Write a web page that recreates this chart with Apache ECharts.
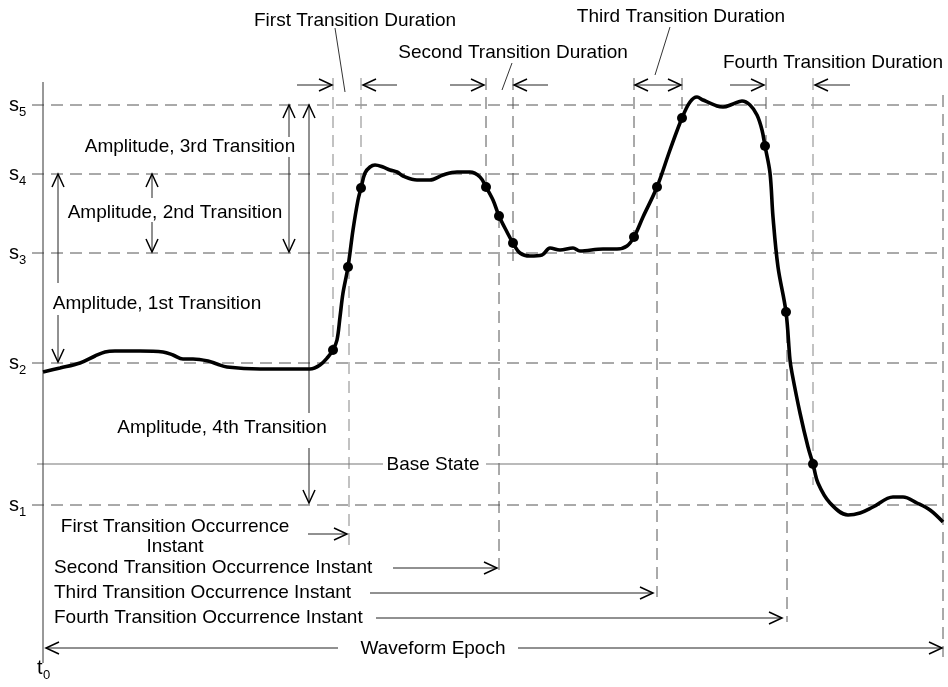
<!DOCTYPE html>
<html><head><meta charset="utf-8">
<script src="https://cdn.jsdelivr.net/npm/echarts@6/dist/echarts.min.js"></script>
<style>html,body{margin:0;padding:0;background:#fff}#c{width:948px;height:687px}</style>
</head><body><div id="c"></div>
<script>
// Time axis: t = time since t0; A = amplitude (arbitrary units)
const levelNames = ['1', '2', '3', '4', '5'];
const levelValues = [95, 237, 347, 426, 495];
const baseState = 136;
const epochEnd = 900;

const waveT = [0,17,37,52,62,72,97,120,130,140,150,165,174,184,217,267,277,285,290,294,297,300,305,310,315,318,322,327,332,340,347,354,360,374,387,400,414,427,437,443,450,456,464,470,477,487,499,507,517,530,537,560,574,584,591,600,614,627,639,647,654,660,674,680,690,699,707,714,719,722,727,730,735,743,747,749,757,765,770,775,787,805,817,830,850,860,874,887,900];
const waveA = [228,232,237,244,248,249,249,248,245,241,241,239,236,233,231,231,235,243,250,260,283,307,333,370,400,412,427,433,435,433,430,428,424,420,420,425,428,428,423,413,400,384,368,357,347,344,345,352,350,352,349,351,351,354,363,383,413,450,482,498,503,500,494,493,496,499,495,485,470,454,427,383,333,288,240,227,187,153,136,117,97,85,87,93,103,103,97,90,78];

const dotT = [290,305,318,443,456,470,591,614,639,722,743,770];
const dotA = [250,333,412,413,384,357,363,413,482,454,288,136];

// guide lines: [t, A top, A bottom]
const lightGuides = [[290,522,250],[318,522,412],[306,333,48],[770,522,115]];
const darkGuides = [[443,522,413],[470,522,337],[456,384,27],[591,522,363],[639,522,482],[614,413,3],[723,522,454],[744,288,-22],[900,505,-57]];

// arrows: [t1, A1, t2, A2, heads(1=end,2=both)]
const arrows = [
 [254,515,289,515,1],[354,515,320,515,1],
 [407,515,441,515,1],[505,515,471,515,1],
 [592,515,638,515,2],
 [687,515,721,515,1],[807,515,772,515,1],
 [15,317,15,426,1],[15,285,15,238,1],
 [109,402,109,426,1],[109,378,109,348,1],
 [246,463,246,495,1],[246,443,246,348,1],
 [266,187,266,495,1],[266,152,266,97,1],
 [265,66,304,66,1],[350,32,454,32,1],[327,7,610,7,1],[333,-18,739,-18,1],
 [295,-48,3,-48,1],[475,-48,899,-48,1]
];
// thin leader lines and axis
const leaders = [[292,572,302,508],[469,537,459,510],[627,573,612,525],[0,518,0,-63]];

const centerLabels = ['First Transition Duration','Second Transition Duration','Third Transition Duration','Fourth Transition Duration','Amplitude, 3rd Transition','Amplitude, 2nd Transition','Amplitude, 1st Transition','Amplitude, 4th Transition','Base State','First Transition Occurrence','Instant','Waveform Epoch'];
const centerLabelT = [312,470,638,790,147,132,114,179,390,132,132,390];
const centerLabelA = [579,547,583,537,453,387,296,172,135,73,53,-49];
const leftLabels = ['Second Transition Occurrence Instant','Third Transition Occurrence Instant','Fourth Transition Occurrence Instant'];
const leftLabelT = [11,11,11];
const leftLabelA = [32,7,-18];

const FONT = '19px "Liberation Sans", Arial, sans-serif';

function segRender(color, dash, width) {
  return function (params, api) {
    const p1 = api.coord([api.value(0), api.value(1)]);
    const p2 = api.coord([api.value(2), api.value(3)]);
    return {type:'line', shape:{x1:p1[0],y1:p1[1],x2:p2[0],y2:p2[1]},
      style:{stroke:color, lineWidth:width, lineDash:dash, fill:null}};
  };
}
function head(p, q) { // arrowhead at q, coming from p
  const dx = q[0]-p[0], dy = q[1]-p[1], len = Math.hypot(dx,dy) || 1;
  const ux = dx/len, uy = dy/len, L = 13, W = 6;
  return {type:'polyline', shape:{points:[[q[0]-ux*L-uy*W, q[1]-uy*L+ux*W],[q[0],q[1]],[q[0]-ux*L+uy*W, q[1]-uy*L-ux*W]]},
    style:{stroke:'#000', lineWidth:1.5, fill:null}};
}
function arrowRender(params, api) {
  const p1 = api.coord([api.value(0), api.value(1)]);
  const p2 = api.coord([api.value(2), api.value(3)]);
  const children = [{type:'line', shape:{x1:p1[0],y1:p1[1],x2:p2[0],y2:p2[1]}, style:{stroke:'#222', lineWidth:1}}];
  children.push(head(p1,p2));
  if (api.value(4) === 2) children.push(head(p2,p1));
  return {type:'group', children};
}
function textRender(list, align) {
  return function (params, api) {
    const p = api.coord([api.value(0), api.value(1)]);
    return {type:'text', x:p[0], y:p[1], style:{text:list[params.dataIndex], font:FONT, fill:'#000', align:align, verticalAlign:'middle'}};
  };
}
function subRender(letter, names, gap) {
  return function (params, api) {
    const p = api.coord([api.value(0), api.value(1)]);
    return {type:'group', children:[
      {type:'text', x:p[0], y:p[1], style:{text:letter, font:'20px "Liberation Sans", Arial, sans-serif', fill:'#000', align:'left', verticalAlign:'middle'}},
      {type:'text', x:p[0]+gap, y:p[1]+7, style:{text:names[params.dataIndex], font:'13px "Liberation Sans", Arial, sans-serif', fill:'#000', align:'left', verticalAlign:'middle'}}
    ]};
  };
}

const hDashed = levelValues.map(a => [-11, a, epochEnd, a]);
const baseLine = [[-6, baseState, 340, baseState],[443, baseState, 905, baseState]];
const toSeg = g => g.map(v => [v[0], v[1], v[0], v[2]]);
const DASH = [12, 7];

const chart = echarts.init(document.getElementById('c'));
chart.setOption({
  animation:false,
  backgroundColor:'#fff',
  grid:{left:0,right:0,top:0,bottom:0},
  xAxis:{type:'value', min:-43, max:905, show:false},
  yAxis:{type:'value', min:-87, max:600, show:false},
  series:[
    {type:'custom', renderItem:segRender('#555', DASH, 1), data:hDashed, encode:{x:[0,2],y:[1,3]}, silent:true},
    {type:'custom', renderItem:segRender('#9a9a9a', DASH, 1.2), data:toSeg(lightGuides), encode:{x:[0,2],y:[1,3]}, silent:true},
    {type:'custom', renderItem:segRender('#555', DASH, 1), data:toSeg(darkGuides), encode:{x:[0,2],y:[1,3]}, silent:true},
    {type:'custom', renderItem:segRender('#777', null, 1.2), data:baseLine, encode:{x:[0,2],y:[1,3]}, silent:true},
    {type:'custom', renderItem:segRender('#333', null, 1), data:leaders, encode:{x:[0,2],y:[1,3]}, silent:true},
    {type:'custom', renderItem:arrowRender, data:arrows, encode:{x:[0,2],y:[1,3]}, silent:true},
    {type:'line', data:waveT.map((t,i)=>[t, waveA[i]]), smooth:0.35, showSymbol:false, lineStyle:{color:'#000', width:3.6}, silent:true, z:5},
    {type:'scatter', data:dotT.map((t,i)=>[t, dotA[i]]), symbolSize:10, itemStyle:{color:'#000', opacity:1}, silent:true, z:6},
    {type:'custom', renderItem:textRender(centerLabels,'center'), data:centerLabelT.map((t,i)=>[t, centerLabelA[i]]), silent:true, z:7},
    {type:'custom', renderItem:textRender(leftLabels,'left'), data:leftLabelT.map((t,i)=>[t, leftLabelA[i]]), silent:true, z:7},
    {type:'custom', renderItem:subRender('s', levelNames, 10), data:levelValues.map(a=>[-34, a]), silent:true, z:7},
    {type:'custom', renderItem:subRender('t', ['0'], 6), data:[[-6, -68]], silent:true, z:7}
  ]
});
</script></body></html>
